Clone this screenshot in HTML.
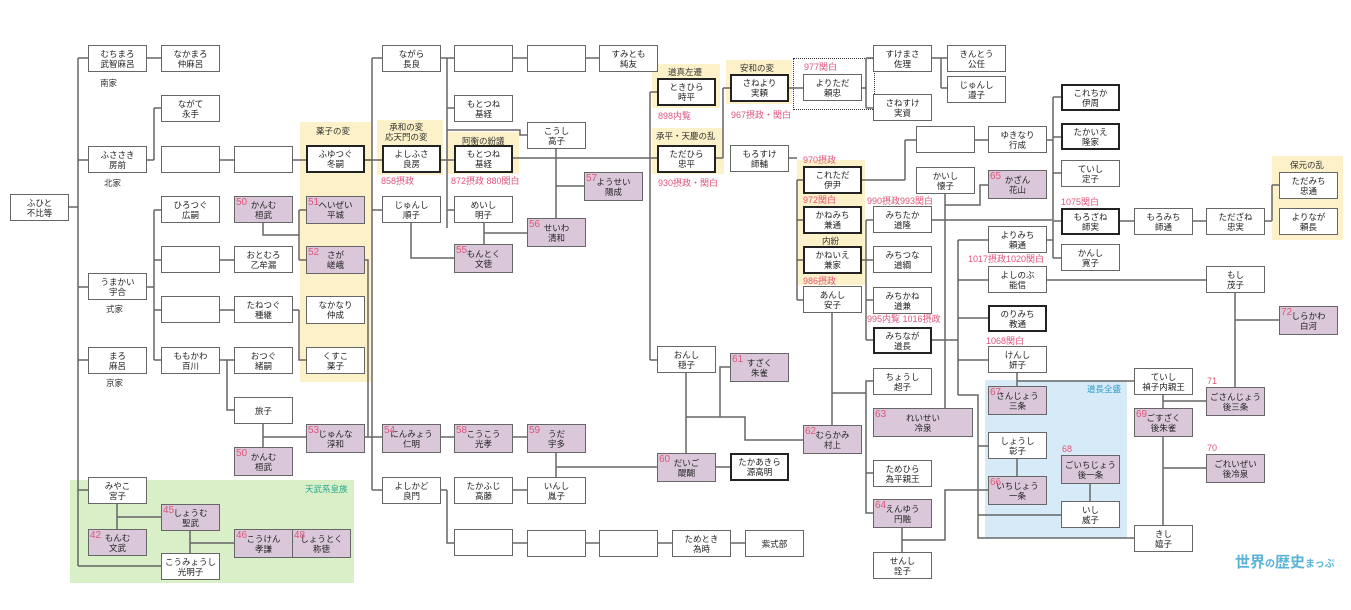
<!DOCTYPE html>
<html><head><meta charset="utf-8"><style>
body{margin:0;width:1351px;height:610px;background:#fff;position:relative;overflow:hidden;font-family:"Liberation Sans","Noto Sans CJK JP",sans-serif}
.b{position:absolute;box-sizing:border-box;width:59px;height:27px;border:1px solid #666;background:#fff;font-size:8.5px;line-height:10px;text-align:center;display:flex;flex-direction:column;justify-content:center;color:#222;z-index:2}
.p{background:#dac8da}
.k{border:2px solid #222}
.n{position:absolute;left:1px;top:1px;color:#e0557a;font-size:10px;line-height:10px}
.r{position:absolute;color:#e0557a;font-size:9px;line-height:10px;white-space:nowrap;z-index:2}
.t{position:absolute;font-size:8.5px;line-height:10px;color:#333;text-align:center;white-space:nowrap;z-index:2}
.y{position:absolute;background:#fcf1c8;z-index:0}
svg{position:absolute;left:0;top:0;z-index:1}
</style></head><body>
<div class="y" style="left:300px;top:122px;width:71px;height:260px"></div>
<div class="y" style="left:377px;top:120px;width:66px;height:55px"></div>
<div class="y" style="left:447px;top:132px;width:72px;height:42px"></div>
<div class="y" style="left:652px;top:64px;width:68px;height:44px"></div>
<div class="y" style="left:652px;top:128px;width:72px;height:46px"></div>
<div class="y" style="left:726px;top:60px;width:66px;height:44px"></div>
<div class="y" style="left:797px;top:160px;width:68px;height:125px"></div>
<div class="y" style="left:1272px;top:156px;width:71px;height:84px"></div>
<div class="y" style="left:70px;top:480px;width:284px;height:103px;background:#d9efc8"></div>
<div class="y" style="left:985px;top:380px;width:142px;height:158px;background:#d6eaf7"></div>
<div style="position:absolute;left:793px;top:58px;width:80px;height:50px;border:1.5px dotted #333;z-index:1"></div>

<svg width="1351" height="610"><g stroke="#666" stroke-width="1.5" fill="none">
<path d="M68 207H78M78 58V566M78 58H88M78 160H88M78 287H88M78 360H88M78 490H88M78 566H161M147 58H161"/>
<path d="M147 160H154M154 108V160M154 108H161M220 160H234M292 160H306M364 160H382M440 160H454M513 158H657"/>
<path d="M147 287H154M154 210V360M154 210H161M154 260H161M154 310H161M154 360H161M220 260H234M220 310H234M220 360H234M227 360V410H234"/>
<path d="M263 223V235H299M299 210V260M299 210H306M299 260H306M292 310H299M299 310V360H306"/>
<path d="M263 424V447M263 437H306M364 260H368V437M364 437H382"/>
<path d="M364 160H372M372 58V490M372 58H382M372 210H382M372 490H382"/>
<path d="M440 58H447M447 58V228M447 58H454M447 108H454M447 210H454M447 130H520V135H527M513 58H527M586 58H599"/>
<path d="M556 149V218M556 186H584M484 223V244M484 233H527M411 223V258H454"/>
<path d="M440 437H454M513 437H527M556 453V477M556 467H657"/>
<path d="M440 490H447M447 490V543H454M513 490H527M513 543H527M586 543H599M658 543H672M731 543H745"/>
<path d="M650 92V360M650 92H657M650 360H657M686 373V453M686 417H720V367H730M720 417H745V440H803M716 467H730"/>
<path d="M716 158H723M723 88V158M723 88H730M788 88H803M862 88H866M866 58V108M866 58H873M866 108H873M932 58H941M941 58V88M941 58H947M941 88H947"/>
<path d="M788 158H797M797 180V300M797 180H803M797 220H803M797 260H803M797 300H803M862 180H905M905 140V180M905 140H916M974 140H988M1046 140H1053"/>
<path d="M862 260H866M866 220V340M866 220H873M866 260H873M866 300H873M866 340H873M832 313V425M832 393H866V381H873M866 393V513H873M866 473H873"/>
<path d="M945 194V408M945 205H980V185H988M932 220H1053M1053 97V220M1053 97H1061M1053 137H1061M1053 173H1061"/>
<path d="M1046 240H1053M1053 221V258M1053 221H1061M1053 258H1061M1119 221H1134M1193 221H1206M1264 221H1272M1272 185V221M1272 185H1279"/>
<path d="M932 340H958M958 240V395M958 240H988M958 280H988M958 318H988M958 360H988M958 395H978V538H1134M978 446H988M978 515H1061"/>
<path d="M1046 280H1206M1235 293V387M1235 320H1279M1017 373V386M1017 381H1134M1163 395V525M1163 401H1206M1163 468H1206"/>
<path d="M1017 459V476M1090 484V501M988 490H945V540H902M902 528V552"/>
<path d="M117 504V529M117 517H161M190 531V553M190 543H234"/>
</g></svg>

<div class="b" style="left:10px;top:194px">ふひと<br>不比等</div>
<div class="b" style="left:88px;top:45px">むちまろ<br>武智麻呂</div>
<div class="t" style="left:100px;top:78px">南家</div>
<div class="b" style="left:88px;top:146px">ふささき<br>房前</div>
<div class="t" style="left:104px;top:178px">北家</div>
<div class="b" style="left:88px;top:273px">うまかい<br>宇合</div>
<div class="t" style="left:106px;top:304px">式家</div>
<div class="b" style="left:88px;top:347px">まろ<br>麻呂</div>
<div class="t" style="left:106px;top:378px">京家</div>
<div class="b" style="left:88px;top:477px">みやこ<br>宮子</div>
<div class="b p" style="left:88px;top:529px"><span class="n">42</span>もんむ<br>文武</div>

<div class="b" style="left:161px;top:45px">なかまろ<br>仲麻呂</div>
<div class="b" style="left:161px;top:95px">ながて<br>永手</div>
<div class="b" style="left:161px;top:146px"></div>
<div class="b" style="left:161px;top:196px">ひろつぐ<br>広嗣</div>
<div class="b" style="left:161px;top:246px"></div>
<div class="b" style="left:161px;top:296px"></div>
<div class="b" style="left:161px;top:347px">ももかわ<br>百川</div>
<div class="b p" style="left:161px;top:504px"><span class="n">45</span>しょうむ<br>聖武</div>
<div class="b" style="left:161px;top:553px">こうみょうし<br>光明子</div>

<div class="b" style="left:234px;top:146px"></div>
<div class="b p" style="left:234px;top:196px"><span class="n">50</span>かんむ<br>桓武</div>
<div class="b" style="left:234px;top:246px">おとむろ<br>乙牟漏</div>
<div class="b" style="left:234px;top:296px">たねつぐ<br>種継</div>
<div class="b" style="left:234px;top:347px">おつぐ<br>緒嗣</div>
<div class="b" style="left:234px;top:397px">旅子</div>
<div class="b p" style="left:234px;top:447px;height:29px"><span class="n">50</span>かんむ<br>桓武</div>
<div class="b p" style="left:234px;top:529px;height:29px"><span class="n">46</span>こうけん<br>孝謙</div>
<div class="b p" style="left:292px;top:529px;height:29px"><span class="n">48</span>しょうとく<br>称徳</div>
<div class="t" style="left:305px;top:484px;color:#2aa88a">天武系皇族</div>

<div class="t" style="left:316px;top:126px">薬子の変</div>
<div class="b k" style="left:306px;top:145px;height:28px">ふゆつぐ<br>冬嗣</div>
<div class="b p" style="left:306px;top:196px;height:28px"><span class="n">51</span>へいぜい<br>平城</div>
<div class="b p" style="left:306px;top:246px;height:28px"><span class="n">52</span>さが<br>嵯峨</div>
<div class="b" style="left:306px;top:296px;height:28px">なかなり<br>仲成</div>
<div class="b" style="left:306px;top:347px">くすこ<br>薬子</div>
<div class="b p" style="left:306px;top:424px;height:29px"><span class="n">53</span>じゅんな<br>淳和</div>

<div class="t" style="left:385px;top:122px">承和の変<br>応天門の変</div>
<div class="b" style="left:382px;top:45px">ながら<br>長良</div>
<div class="b k" style="left:382px;top:145px;height:28px">よしふさ<br>良房</div>
<div class="r" style="left:381px;top:176px">858摂政</div>
<div class="b" style="left:382px;top:196px">じゅんし<br>順子</div>
<div class="b p" style="left:382px;top:424px;height:29px"><span class="n">54</span>にんみょう<br>仁明</div>
<div class="b" style="left:382px;top:477px">よしかど<br>良門</div>

<div class="b" style="left:454px;top:45px"></div>
<div class="b" style="left:454px;top:95px">もとつね<br>基経</div>
<div class="t" style="left:462px;top:136px">阿衡の紛議</div>
<div class="b k" style="left:454px;top:145px;height:28px">もとつね<br>基経</div>
<div class="r" style="left:451px;top:176px">872摂政 880関白</div>
<div class="b" style="left:454px;top:196px">めいし<br>明子</div>
<div class="b p" style="left:454px;top:244px;height:29px"><span class="n">55</span>もんとく<br>文徳</div>
<div class="b p" style="left:454px;top:424px;height:29px"><span class="n">58</span>こうこう<br>光孝</div>
<div class="b" style="left:454px;top:477px">たかふじ<br>高藤</div>
<div class="b" style="left:454px;top:529px"></div>

<div class="b" style="left:527px;top:45px"></div>
<div class="b" style="left:527px;top:122px">こうし<br>高子</div>
<div class="b p" style="left:527px;top:218px;height:29px"><span class="n">56</span>せいわ<br>清和</div>
<div class="b p" style="left:527px;top:424px;height:29px"><span class="n">59</span>うだ<br>宇多</div>
<div class="b" style="left:527px;top:477px">いんし<br>胤子</div>
<div class="b" style="left:527px;top:530px"></div>

<div class="b" style="left:599px;top:45px">すみとも<br>純友</div>
<div class="b p" style="left:584px;top:172px;height:29px"><span class="n">57</span>ようせい<br>陽成</div>
<div class="b" style="left:599px;top:530px"></div>

<div class="t" style="left:668px;top:67px">道真左遷</div>
<div class="b k" style="left:657px;top:78px;height:28px">ときひら<br>時平</div>
<div class="r" style="left:658px;top:111px">898内覧</div>
<div class="t" style="left:656px;top:131px">承平・天慶の乱</div>
<div class="b k" style="left:657px;top:145px;height:28px">ただひら<br>忠平</div>
<div class="r" style="left:658px;top:178px">930摂政・関白</div>
<div class="b" style="left:657px;top:346px">おんし<br>穏子</div>
<div class="b p" style="left:657px;top:453px;height:29px"><span class="n">60</span>だいご<br>醍醐</div>
<div class="b" style="left:672px;top:530px">ためとき<br>為時</div>

<div class="t" style="left:740px;top:63px">安和の変</div>
<div class="b k" style="left:730px;top:74px;height:28px">さねより<br>実頼</div>
<div class="r" style="left:731px;top:110px">967摂政・関白</div>
<div class="b" style="left:730px;top:145px">もろすけ<br>師輔</div>
<div class="b p" style="left:730px;top:353px;height:29px"><span class="n">61</span>すざく<br>朱雀</div>
<div class="b k" style="left:730px;top:453px;height:28px">たかあきら<br>源高明</div>
<div class="b" style="left:745px;top:530px">紫式部</div>

<div class="r" style="left:804px;top:62px">977関白</div>
<div class="b" style="left:803px;top:74px">よりただ<br>頼忠</div>
<div class="r" style="left:803px;top:155px">970摂政</div>
<div class="b k" style="left:803px;top:166px;height:28px">これただ<br>伊尹</div>
<div class="r" style="left:803px;top:195px">972関白</div>
<div class="b k" style="left:803px;top:206px;height:28px">かねみち<br>兼通</div>
<div class="t" style="left:822px;top:236px">内紛</div>
<div class="b k" style="left:803px;top:246px;height:28px">かねいえ<br>兼家</div>
<div class="r" style="left:803px;top:276px">986摂政</div>
<div class="b" style="left:803px;top:286px">あんし<br>安子</div>
<div class="b p" style="left:803px;top:425px;height:29px"><span class="n">62</span>むらかみ<br>村上</div>

<div class="b" style="left:873px;top:45px">すけまさ<br>佐理</div>
<div class="b" style="left:873px;top:94px">さねすけ<br>実資</div>
<div class="b" style="left:916px;top:126px"></div>
<div class="b" style="left:916px;top:167px">かいし<br>懐子</div>
<div class="r" style="left:867px;top:196px">990摂政993関白</div>
<div class="b" style="left:873px;top:206px">みちたか<br>道隆</div>
<div class="b" style="left:873px;top:246px">みちつな<br>道綱</div>
<div class="b" style="left:873px;top:287px">みちかね<br>道兼</div>
<div class="r" style="left:867px;top:314px">995内覧 1016摂政</div>
<div class="b k" style="left:873px;top:327px">みちなが<br>道長</div>
<div class="b" style="left:873px;top:368px">ちょうし<br>超子</div>
<div class="b p" style="left:873px;top:408px;width:100px;height:29px"><span class="n">63</span>れいせい<br>冷泉</div>
<div class="b" style="left:873px;top:460px">ためひら<br>為平親王</div>
<div class="b p" style="left:873px;top:499px;height:29px"><span class="n">64</span>えんゆう<br>円融</div>
<div class="b" style="left:873px;top:552px">せんし<br>詮子</div>

<div class="b" style="left:947px;top:45px">きんとう<br>公任</div>
<div class="b" style="left:947px;top:76px">じゅんし<br>遵子</div>
<div class="b" style="left:988px;top:126px">ゆきなり<br>行成</div>
<div class="b p" style="left:988px;top:170px;height:29px"><span class="n">65</span>かざん<br>花山</div>
<div class="b" style="left:988px;top:226px">よりみち<br>頼通</div>
<div class="r" style="left:968px;top:254px">1017摂政1020関白</div>
<div class="b" style="left:988px;top:266px">よしのぶ<br>能信</div>
<div class="b k" style="left:988px;top:305px">のりみち<br>教通</div>
<div class="r" style="left:986px;top:336px">1068関白</div>
<div class="b" style="left:988px;top:346px">けんし<br>妍子</div>
<div class="b p" style="left:988px;top:386px;height:29px"><span class="n">67</span>さんじょう<br>三条</div>
<div class="b" style="left:988px;top:432px">しょうし<br>彰子</div>
<div class="b p" style="left:988px;top:476px;height:29px"><span class="n">66</span>いちじょう<br>一条</div>
<div class="t" style="left:1087px;top:384px;color:#2a9ac8">道長全盛</div>

<div class="b k" style="left:1061px;top:84px">これちか<br>伊周</div>
<div class="b k" style="left:1061px;top:123px">たかいえ<br>隆家</div>
<div class="b" style="left:1061px;top:160px">ていし<br>定子</div>
<div class="r" style="left:1061px;top:197px">1075関白</div>
<div class="b k" style="left:1061px;top:208px">もろざね<br>師実</div>
<div class="b" style="left:1061px;top:244px">かんし<br>寛子</div>
<div class="r" style="left:1062px;top:444px">68</div>
<div class="b p" style="left:1061px;top:455px;height:29px">ごいちじょう<br>後一条</div>
<div class="b" style="left:1061px;top:501px">いし<br>威子</div>

<div class="b" style="left:1134px;top:208px">もろみち<br>師通</div>
<div class="b" style="left:1134px;top:368px">ていし<br>禎子内親王</div>
<div class="b p" style="left:1134px;top:408px;height:29px"><span class="n">69</span>ごすざく<br>後朱雀</div>
<div class="b" style="left:1134px;top:525px">きし<br>嬉子</div>

<div class="b" style="left:1206px;top:208px">ただざね<br>忠実</div>
<div class="b" style="left:1206px;top:266px">もし<br>茂子</div>
<div class="r" style="left:1207px;top:376px">71</div>
<div class="b p" style="left:1206px;top:387px;height:29px">ごさんじょう<br>後三条</div>
<div class="r" style="left:1207px;top:443px">70</div>
<div class="b p" style="left:1206px;top:454px;height:29px">ごれいぜい<br>後冷泉</div>

<div class="t" style="left:1290px;top:160px">保元の乱</div>
<div class="b" style="left:1279px;top:172px">ただみち<br>忠通</div>
<div class="b" style="left:1279px;top:208px">よりなが<br>頼長</div>
<div class="b p" style="left:1279px;top:306px;height:29px"><span class="n">72</span>しらかわ<br>白河</div>

<div style="position:absolute;left:1235px;top:551px;font-size:15px;font-weight:bold;color:#5ab4d8;white-space:nowrap">世界<span style="font-size:10px">の</span>歴史<span style="font-size:10px">まっぷ</span></div>
</body></html>
